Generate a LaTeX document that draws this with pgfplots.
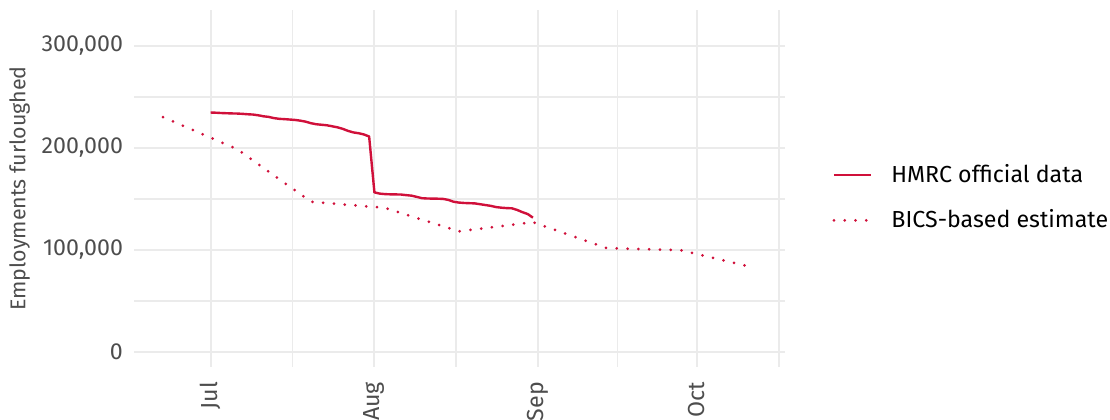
\documentclass[border=0pt]{standalone}
\usepackage{pgfplots}
\pgfplotsset{compat=1.18}
\usepackage{fontspec}
\setmainfont{Fira Sans}
\definecolor{hmrc}{RGB}{208,16,58}
\definecolor{gridc}{RGB}{235,235,235}
\definecolor{ticklab}{RGB}{77,77,77}
\begin{document}
\begin{tikzpicture}
\begin{axis}[
  scale only axis,
  width=325.5pt, height=178.5pt,
  xmin=-14.5, xmax=108.7,
  ymin=-15000, ymax=335000,
  axis line style={draw=none},
  tick style={draw=none},
  xtick={0,31,62,92},
  xticklabels={Jul,Aug,Sep,Oct},
  minor xtick={15.5,46.5,77,107.5},
  ytick={0,100000,200000,300000},
  yticklabels={0,{100,000},{200,000},{300,000}},
  minor ytick={50000,150000,250000},
  grid=both,
  major grid style={draw=gridc, line width=1pt},
  minor grid style={draw=gridc, line width=0.9pt},
  x tick label style={rotate=90, anchor=east, font=\fontsize{11.6}{13}\selectfont, text=ticklab},
  y tick label style={font=\fontsize{11.6}{13}\selectfont, text=ticklab},
  xticklabel shift=4pt,
  yticklabel shift=2pt,
  ylabel={Employments furloughed},
  ylabel style={font=\fontsize{10.7}{12}\selectfont, text=ticklab, yshift=-1pt},
  legend style={at={(1.063,0.474)}, anchor=west, draw=none, fill=none,
    font=\fontsize{11.6}{13}\selectfont, row sep=8pt,
    /tikz/every odd column/.append style={column sep=7.5pt}},
  legend cell align=left,
  legend image code/.code={\draw[#1] (0pt,0pt) -- (18.5pt,0pt);},
]
\addplot[hmrc, line width=1.2pt, line join=round] table {
x y
0 234500
1 234300
2 234000
3 233800
4 233600
5 233500
6 233200
7 232800
8 232500
9 231800
10 230800
11 230200
12 229000
13 228300
14 228000
15 227600
16 227200
17 226500
18 225500
19 224000
20 223000
21 222500
22 222000
23 221000
24 220000
25 218500
26 216500
27 215000
28 214200
29 213000
30 211000
31 156200
32 155000
33 154500
34 154300
35 154200
36 154100
37 153500
38 153000
39 151800
40 150500
41 150200
42 150100
43 150000
44 149800
45 148800
46 147000
47 146200
48 145800
49 145600
50 145400
51 144600
52 143800
53 143000
54 141800
55 141200
56 140800
57 140600
58 139000
59 136800
60 135000
61 131400
};
\addlegendentry{HMRC official data}
\addplot[hmrc, line width=1.5pt, line cap=round, dash pattern=on 0pt off 5.4pt] table {
x y
-9 230000
5 198600
19 147000
33 141000
47 118000
61 127000
75 101500
89 99500
102 83500
};
\addlegendentry{BICS-based estimate}
\end{axis}
\pgfresetboundingbox
\path[use as bounding box] (-67pt,-26pt) rectangle (488pt,183.5pt);
\end{tikzpicture}
\end{document}
